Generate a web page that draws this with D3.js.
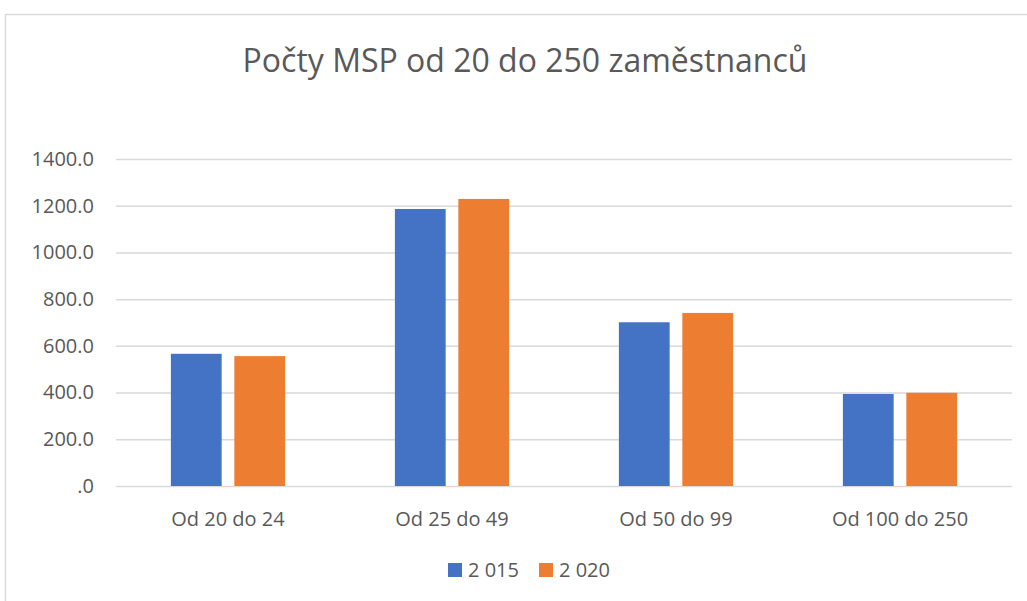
<!DOCTYPE html>
<html><head><meta charset="utf-8">
<script src="https://cdn.jsdelivr.net/npm/d3@7/dist/d3.min.js"></script>
<style>body{margin:0;background:#fff}text{font-family:"Open Sans",sans-serif;fill:#595959}</style>
</head><body>
<svg id="c" width="1027" height="601"></svg>
<script>
const categories = ["Od 20 do 24","Od 25 do 49","Od 50 do 99","Od 100 do 250"];
const seriesNames = ["2 015","2 020"];
const values2015 = [566, 1186, 701, 394];
const values2020 = [556, 1229, 741, 399];
const yTicks = [0,200,400,600,800,1000,1200,1400];
const colors = ["#4472C4","#ED7D31"];
const title = "Počty MSP od 20 do 250 zaměstnanců";

const svg = d3.select("#c");
svg.append("rect").attr("x",5.5).attr("y",14.5).attr("width",1040).attr("height",600)
  .attr("fill","#fff").attr("stroke","#d9d9d9").attr("stroke-width",1.5);

const L=116,R=1012,T=159,B=486;
const y = d3.scaleLinear().domain([0,1400]).range([B,T]);
const x0 = d3.scaleBand().domain(categories).range([L,R]).paddingInner(0.49).paddingOuter(0.245);
const x1 = d3.scaleBand().domain(seriesNames).range([0,x0.bandwidth()]).paddingInner(0.2);

svg.append("text").attr("x",525).attr("y",72).attr("text-anchor","middle")
  .style("font-size","32px").text(title);

const yAxis = d3.axisLeft(y).tickValues(yTicks).tickSize(-(R-L)).tickPadding(22)
  .tickFormat(d=> d===0 ? ".0" : d3.format(".1f")(d));
const gy = svg.append("g").attr("transform",`translate(${L},0)`).call(yAxis);
gy.select(".domain").remove();
gy.selectAll("line").attr("stroke","#d9d9d9").attr("stroke-width",1.5);
gy.selectAll("text").style("font-size","20px").style("fill","#595959");

const data = categories.map((c,i)=>({c, v:[values2015[i],values2020[i]]}));
const g = svg.append("g");
data.forEach(d=>{
  seriesNames.forEach((s,j)=>{
    g.append("rect").attr("x",x0(d.c)+x1(s)).attr("y",y(d.v[j]))
     .attr("width",x1.bandwidth()).attr("height",B-y(d.v[j])).attr("fill",colors[j]);
  });
});

const xAxis = d3.axisBottom(x0).tickSize(0).tickPadding(26);
const gx = svg.append("g").attr("transform",`translate(0,${B})`).call(xAxis);
gx.select(".domain").remove();
gx.selectAll("text").style("font-size","20px").style("fill","#595959");

const leg = svg.append("g");
const legX = [448,539];
seriesNames.forEach((s,j)=>{
  leg.append("rect").attr("x",legX[j]).attr("y",563).attr("width",14).attr("height",14).attr("fill",colors[j]);
  leg.append("text").attr("x",legX[j]+20).attr("y",577).style("font-size","20px").text(s);
});
</script>
</body></html>
